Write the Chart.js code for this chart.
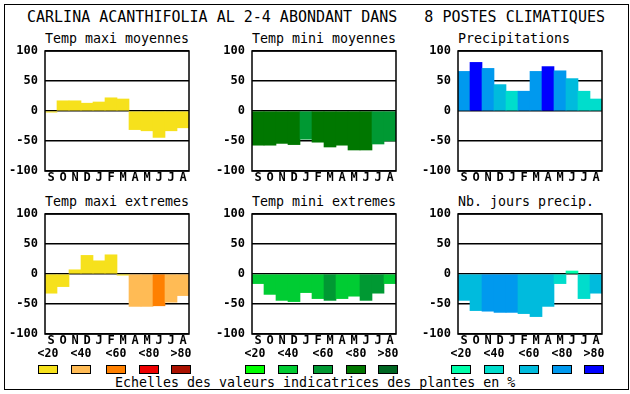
<!DOCTYPE html>
<html>
<head>
<meta charset="utf-8">
<script src="https://cdn.jsdelivr.net/npm/chart.js@4.4.1/dist/chart.umd.min.js"></script>
<style>
  body { margin: 0; background: #fff; font-family: "DejaVu Sans Mono", monospace; }
  #page { position: relative; width: 630px; height: 394px; overflow: hidden; background: #fff; }
  .box { position: absolute; left: 4px; top: 4px; width: 623px; height: 384px; border: 1px solid #000; }
  .txt { position: absolute; white-space: pre; line-height: 1; color: #000; }
  .title { font-size: 15px; }
  .sub { font-size: 13.3px; }
  .cls { font-size: 11.5px; font-weight: bold; width: 30px; text-align: center; }
  .sw { position: absolute; width: 18px; height: 7px; border: 1px solid #000; }
  canvas { position: absolute; }
</style>
</head>
<body>
<div id="page">
  <div class="box"></div>
  <div class="txt title" style="left:27px;top:10px;">CARLINA ACANTHIFOLIA AL 2-4 ABONDANT DANS   8 POSTES CLIMATIQUES</div>
  <div class="txt sub" style="left:115px;top:376px;">Echelles des valeurs indicatrices des plantes en %</div>
</div>
<script>
const months = ['S', 'O', 'N', 'D', 'J', 'F', 'M', 'A', 'M', 'J', 'J', 'A'];
const classLabels = ['<20', '<40', '<60', '<80', '>80'];

const tmaxMoy    = [-2, 17, 17, 13, 15, 22, 20, -31, -33, -44, -33, -28];
const tmaxMoyCls = [0, 0, 0, 0, 0, 0, 0, 0, 0, 0, 0, 0];
const tminMoy    = [-57, -57, -54, -56, -47, -52, -60, -57, -65, -65, -55, -50];
const tminMoyCls = [3, 3, 3, 3, 2, 3, 3, 3, 3, 3, 2, 2];
const precip     = [66, 81, 71, 44, 33, 33, 66, 74, 67, 54, 33, 20];
const precipCls  = [3, 4, 3, 2, 1, 3, 3, 4, 3, 2, 1, 1];
const tmaxExt    = [-32, -21, 7, 31, 22, 32, -2, -54, -54, -53, -47, -36];
const tmaxExtCls = [0, 0, 0, 0, 0, 0, 0, 1, 1, 2, 1, 1];
const tminExt    = [-16, -34, -44, -46, -31, -41, -44, -41, -37, -44, -32, -16];
const tminExtCls = [1, 1, 1, 1, 1, 1, 2, 1, 1, 2, 2, 1];
const joursPrec  = [-44, -61, -62, -64, -64, -66, -71, -54, -16, 5, -41, -32];
const joursPrecCls = [2, 2, 3, 3, 3, 2, 2, 2, 1, 0, 1, 2];

const warm  = ['#f6e11c', '#ffbb55', '#ff8000', '#ee0000', '#aa1100'];
const green = ['#00ff00', '#00cc33', '#009933', '#007700', '#006622'];
const blue  = ['#00ffaa', '#00ddcc', '#00bbdd', '#0099ee', '#0000ff'];

const panels = [
    { title: 'Temp maxi moyennes', data: tmaxMoy, cls: tmaxMoyCls, colors: warm, x: 45, y: 51 },
    { title: 'Temp mini moyennes', data: tminMoy, cls: tminMoyCls, colors: green, x: 252, y: 51 },
    { title: 'Precipitations', data: precip, cls: precipCls, colors: blue, x: 458, y: 51 },
    { title: 'Temp maxi extremes', data: tmaxExt, cls: tmaxExtCls, colors: warm, x: 45, y: 214, legend: true },
    { title: 'Temp mini extremes', data: tminExt, cls: tminExtCls, colors: green, x: 252, y: 214, legend: true },
    { title: 'Nb. jours precip.', data: joursPrec, cls: joursPrecCls, colors: blue, x: 458, y: 214, legend: true }
];

const swatchOffsets = [-7, 26, 61, 94, 126];

// black box round the plot area, drawn over the bars
const framePlugin = {
    id: 'frame',
    afterDraw(chart) {
        const a = chart.chartArea;
        const ctx = chart.ctx;
        ctx.save();
        ctx.strokeStyle = '#000';
        ctx.lineWidth = 1.5;
        ctx.strokeRect(a.left, a.top, a.right - a.left, a.bottom - a.top);
        ctx.restore();
    }
};

const page = document.getElementById('page');

function addText(cls, text, left, top) {
    const d = document.createElement('div');
    d.className = 'txt ' + cls;
    d.textContent = text;
    d.style.left = left + 'px';
    d.style.top = top + 'px';
    page.appendChild(d);
}

function makePanel(p) {
    addText('sub', p.title, p.x, p.y - 19);

    const padTop = 8, axisW = 45, axisH = 20, padRight = 6;
    const canvas = document.createElement('canvas');
    canvas.width = axisW + 144 + padRight;
    canvas.height = padTop + 120 + axisH;
    canvas.style.left = (p.x - axisW) + 'px';
    canvas.style.top = (p.y - padTop) + 'px';
    page.appendChild(canvas);

    new Chart(canvas.getContext('2d'), {
        type: 'bar',
        data: {
            labels: months,
            datasets: [{
                data: p.data,
                backgroundColor: p.data.map((v, i) => p.colors[p.cls[i]]),
                borderWidth: 0,
                categoryPercentage: 1,
                barPercentage: 1
            }]
        },
        options: {
            responsive: false,
            animation: false,
            layout: { padding: { top: padTop, right: padRight, left: 0, bottom: 0 } },
            plugins: { legend: { display: false }, tooltip: { enabled: false } },
            scales: {
                x: {
                    grid: { display: false, drawTicks: false },
                    border: { display: false },
                    ticks: {
                        color: '#000',
                        font: { family: 'DejaVu Sans Mono', size: 12, weight: 'bold' },
                        padding: 0,
                        autoSkip: false,
                        maxRotation: 0
                    },
                    afterFit: (axis) => { axis.height = axisH; }
                },
                y: {
                    min: -100,
                    max: 100,
                    z: 1,
                    grid: { color: '#000', lineWidth: 1.5, drawTicks: false },
                    border: { display: false },
                    ticks: {
                        stepSize: 50,
                        color: '#000',
                        padding: 7,
                        font: { family: 'DejaVu Sans Mono', size: 12, weight: 'bold' }
                    },
                    afterFit: (axis) => {
                        axis.width = axisW;
                        axis.paddingTop = 0;
                        axis.paddingBottom = 0;
                    }
                }
            }
        },
        plugins: [framePlugin]
    });

    if (p.legend) {
        swatchOffsets.forEach((off, k) => {
            addText('cls', classLabels[k], p.x + off - 5, 348);
            const s = document.createElement('div');
            s.className = 'sw';
            s.style.left = (p.x + off) + 'px';
            s.style.top = '365px';
            s.style.background = p.colors[k];
            page.appendChild(s);
        });
    }
}

panels.forEach(makePanel);
</script>
</body>
</html>
